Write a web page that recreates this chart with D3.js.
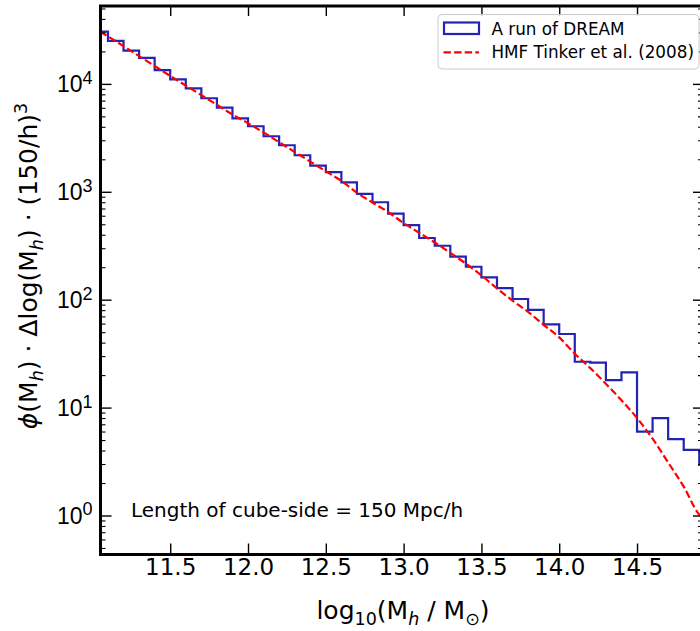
<!DOCTYPE html>
<html><head><meta charset="utf-8">
<script src="https://cdn.jsdelivr.net/npm/d3@7/dist/d3.min.js"></script>
<style>
body{margin:0;background:#fff;}
svg{display:block;font-family:"DejaVu Sans",sans-serif;}
</style>
</head><body>
<svg id="chart" width="700" height="631"></svg>
<script>
// ---------- data ----------
const binEdges = [11.0,11.1,11.2,11.3,11.4,11.5,11.6,11.7,11.8,11.9,12.0,12.1,12.2,12.3,12.4,12.5,12.6,12.7,12.8,12.9,
                  13.0,13.1,13.2,13.3,13.4,13.5,13.6,13.7,13.8,13.9,14.0,14.1,14.2,14.3,14.4,14.5,14.6,14.7,14.8,14.9,15.0];
const dreamCounts = [30500,25000,20300,17400,13400,11000,9100,7360,6020,4800,
                     4050,3270,2700,2180,1750,1520,1225,955,800,627,
                     490,373,316,251,202,161,128,101.5,80.3,59.1,
                     48.1,26.6,26.1,18.0,21.2,6.0,8.0,5.1,4.05,2.95];
const tinkerMass = [11.05,11.1,11.2,11.3,11.4,11.5,11.6,11.7,11.8,11.9,12.0,12.1,12.2,12.3,12.4,12.5,12.6,12.7,12.8,12.9,
                    13.0,13.1,13.2,13.3,13.4,13.5,13.6,13.7,13.8,13.9,14.0,14.1,14.2,14.3,14.4,14.5,14.6,14.7,14.8,14.9,14.93];
const tinkerPhi = [30550,27540,22400,18100,14650,11860,9660,7870,6400,5200,4320,3550,2880,2340,1905,1550,1260,980,795,650,
                   513,417,339,272,216,168,127,98,77,58.5,44.7,31.6,23.2,16.6,11.7,8.0,5.15,3.1,1.85,1.02,0.93];
const xTickValues = [11.5,12.0,12.5,13.0,13.5,14.0,14.5];
const xTickLabels = ["11.5","12.0","12.5","13.0","13.5","14.0","14.5"];
const yTickValues = [1,10,100,1000,10000];
const yTickExponents = ["0","1","2","3","4"];
const xDomain = [11.052, 14.924];
const yDomain = [0.435, 52700];
const seriesNames = ["A run of DREAM", "HMF Tinker et al. (2008)"];
const annotationText = "Length of cube-side = 150 Mpc/h";

// ---------- layout ----------
const L = 100.5, R = 703, T = 6, B = 554.5;
const blue = "#2323b4", red = "#ff0000";
const svg = d3.select("#chart");
const x = d3.scaleLinear().domain(xDomain).range([L, R]);
const y = d3.scaleLog().domain(yDomain).range([B, T]);

svg.append("defs").append("clipPath").attr("id","plotclip")
  .append("rect").attr("x",L).attr("y",T).attr("width",R-L).attr("height",B-T);

const plot = svg.append("g").attr("clip-path","url(#plotclip)");

// histogram step outline
const stepPts = [[binEdges[0], yDomain[0]]];
dreamCounts.forEach((v,i)=>{ stepPts.push([binEdges[i], v]); stepPts.push([binEdges[i+1], v]); });
stepPts.push([binEdges[binEdges.length-1], yDomain[0]]);
plot.append("path")
  .attr("d", d3.line().x(d=>x(d[0])).y(d=>y(d[1]))(stepPts))
  .attr("fill","none").attr("stroke",blue).attr("stroke-width",2.2).attr("stroke-linejoin","miter");

// Tinker curve
plot.append("path")
  .attr("d", d3.line().x((d,i)=>x(tinkerMass[i])).y(d=>y(d)).curve(d3.curveMonotoneX)(tinkerPhi))
  .attr("fill","none").attr("stroke",red).attr("stroke-width",2.2).attr("stroke-dasharray","7.4,3.2");

// ---------- axes ----------
const minorY = y.ticks().filter(v => Math.abs(Math.log10(v) - Math.round(Math.log10(v))) > 1e-6);

function styleAxis(g){
  g.select(".domain").remove();
  g.selectAll(".tick line").attr("stroke","#000").attr("stroke-width",1.4);
}
// bottom
const gB = svg.append("g").attr("transform",`translate(0,${B})`)
  .call(d3.axisBottom(x).tickValues(xTickValues).tickFormat((d,i)=>xTickLabels[i]).tickSizeInner(-11).tickSizeOuter(0).tickPadding(4.5));
styleAxis(gB);
gB.selectAll(".tick text").attr("font-size",23).attr("fill","#000").attr("font-family","DejaVu Sans");
// top
const gT = svg.append("g").attr("transform",`translate(0,${T})`)
  .call(d3.axisTop(x).tickValues(xTickValues).tickFormat("").tickSizeInner(-10).tickSizeOuter(0));
styleAxis(gT);
// left major
const gL = svg.append("g").attr("transform",`translate(${L},0)`)
  .call(d3.axisLeft(y).tickValues(yTickValues).tickFormat("").tickSizeInner(-11).tickSizeOuter(0));
styleAxis(gL);
gL.selectAll(".tick").each(function(d,i){
  const t = d3.select(this).append("text").attr("x",-8).attr("y",8).attr("text-anchor","end")
    .attr("font-size",23).attr("fill","#000");
  t.append("tspan").text("10");
  t.append("tspan").attr("font-size",18).attr("dy",-8.5).text(yTickExponents[i]);
});
const gLm = svg.append("g").attr("transform",`translate(${L},0)`)
  .call(d3.axisLeft(y).tickValues(minorY).tickFormat("").tickSizeInner(-5).tickSizeOuter(0));
styleAxis(gLm); gLm.selectAll(".tick line").attr("stroke-width",1.1);
// right
const gR = svg.append("g").attr("transform",`translate(${R},0)`)
  .call(d3.axisRight(y).tickValues(yTickValues).tickFormat("").tickSizeInner(-10).tickSizeOuter(0));
styleAxis(gR);
const gRm = svg.append("g").attr("transform",`translate(${R},0)`)
  .call(d3.axisRight(y).tickValues(minorY).tickFormat("").tickSizeInner(-5).tickSizeOuter(0));
styleAxis(gRm); gRm.selectAll(".tick line").attr("stroke-width",1.1);

// frame
svg.append("rect").attr("x",L).attr("y",T).attr("width",R-L).attr("height",B-T)
  .attr("fill","none").attr("stroke","#000").attr("stroke-width",3);

// ---------- labels ----------
const xl = svg.append("text").attr("x",403).attr("y",619).attr("text-anchor","middle")
  .attr("font-size",25).attr("fill","#000");
xl.append("tspan").text("log");
xl.append("tspan").attr("font-size",17.5).attr("dy",5.5).text("10");
xl.append("tspan").attr("dy",-5.5).text("(M");
xl.append("tspan").attr("font-size",17.5).attr("font-style","italic").attr("dy",5.5).text("h");
xl.append("tspan").attr("dy",-5.5).text(" / M");
xl.append("tspan").attr("font-size",17.5).attr("dy",5.5).text("\u2299");
xl.append("tspan").attr("dy",-5.5).text(")");

const yl = svg.append("text").attr("transform","translate(37,266) rotate(-90)").attr("text-anchor","middle")
  .attr("font-size",25).attr("fill","#000");
yl.append("tspan").attr("font-style","italic").text("\u03D5");
yl.append("tspan").text("(M");
yl.append("tspan").attr("font-size",17.5).attr("font-style","italic").attr("dy",5.5).text("h");
yl.append("tspan").attr("dy",-5.5).text(") \u00B7 \u0394log(M");
yl.append("tspan").attr("font-size",17.5).attr("font-style","italic").attr("dy",5.5).text("h");
yl.append("tspan").attr("dy",-5.5).text(") \u00B7 (150/h)");
yl.append("tspan").attr("font-size",17.5).attr("dy",-10).text("3");

// annotation
svg.append("text").attr("x",131).attr("y",516.5).attr("font-size",20).attr("fill","#000").text(annotationText);

// ---------- legend ----------
const lg = svg.append("g");
lg.append("rect").attr("x",438).attr("y",14.5).attr("width",261).attr("height",54.5).attr("rx",4)
  .attr("fill","#fff").attr("fill-opacity",0.8).attr("stroke","#cccccc").attr("stroke-width",1);
lg.append("rect").attr("x",444).attr("y",22.5).attr("width",35).attr("height",11.5)
  .attr("fill","none").attr("stroke",blue).attr("stroke-width",2.2);
lg.append("text").attr("x",491.5).attr("y",35).attr("font-size",16.8).attr("fill","#000").text(seriesNames[0]);
lg.append("line").attr("x1",443.5).attr("x2",479).attr("y1",52.3).attr("y2",52.3)
  .attr("stroke",red).attr("stroke-width",2.2).attr("stroke-dasharray","7.4,3.2");
lg.append("text").attr("x",491.5).attr("y",58.3).attr("font-size",16.8).attr("fill","#000").text(seriesNames[1]);
</script>
</body></html>
